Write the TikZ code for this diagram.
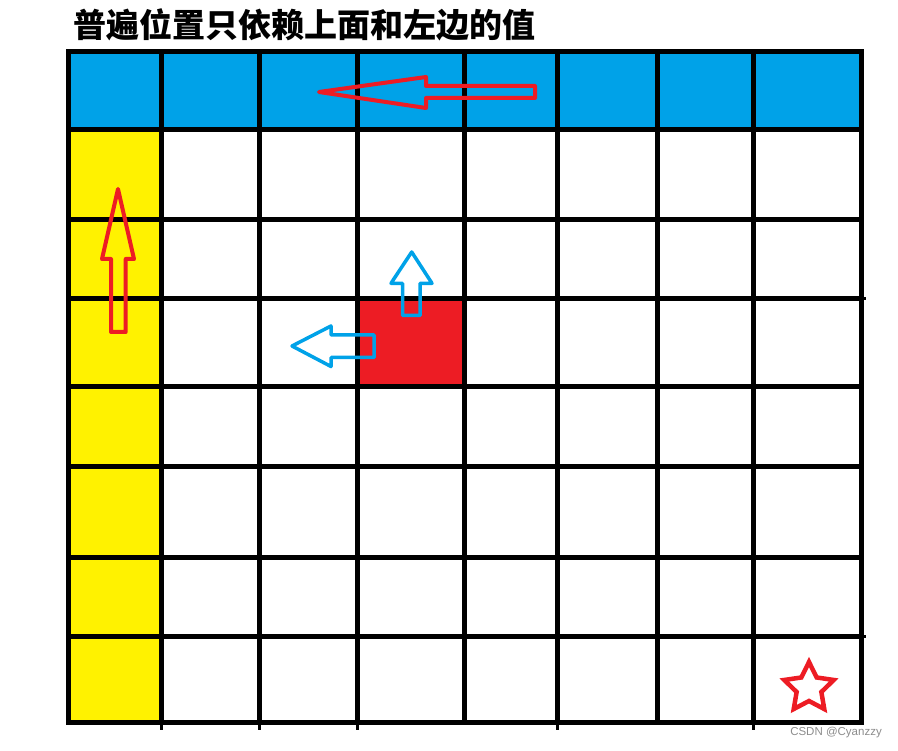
\documentclass[tikz,border=0pt]{standalone}
\usepackage{fontspec}
\setsansfont{Liberation Sans}
\newfontfamily\cjk{Noto Sans CJK SC}
\usepackage{tikz}

\definecolor{paintblue}{HTML}{00A2E8}
\definecolor{paintred}{HTML}{ED1C24}
\definecolor{paintyellow}{HTML}{FFF200}

\begin{document}
\begin{tikzpicture}[x=1pt, y=-1pt,
    gridline/.style={line width=5pt, line cap=rect},
    tickline/.style={line width=3pt},
    redarrow/.style={draw=paintred, line width=4pt, line join=round},
    bluearrow/.style={draw=paintblue, line width=3.5pt, line join=round}]
    \useasboundingbox (0,0) rectangle (898,751);

    % Title
    \node (title) at (73,25) [anchor=west, inner sep=0pt, font=\cjk\bfseries\fontsize{33}{33}\selectfont] {普遍位置只依赖上面和左边的值};

    % Filled cells
    \fill[paintblue] (68,52) rectangle (861,130);
    \fill[paintyellow] (68,130) rectangle (161,722);
    \fill[paintred] (357,299) rectangle (464,387);

    % Grid
    \foreach \x in {68,161,259,357,464,557,657,753,861}
        \draw[gridline] (\x,52) -- (\x,722);
    \foreach \y in {52,130,220,299,387,467,557,636,722}
        \draw[gridline] (68,\y) -- (861,\y);
    \foreach \x in {161,259,357,557,753}
        \draw[tickline] (\x,722) -- (\x,730);
    \foreach \y in {299,636}
        \draw[tickline] (861,\y) -- (866,\y);

    % Dependency arrows
    \draw[redarrow] (319,92) -- (426,77) -- (426,86) -- (535,86) -- (535,98) -- (426,98) -- (426,108) -- cycle;
    \draw[redarrow] (118,189) -- (134,259) -- (125.7,259) -- (125.7,332) -- (111,332) -- (111,259) -- (102,259) -- cycle;
    \draw[bluearrow] (411.7,252) -- (432,283.3) -- (420,283.3) -- (420,315.5) -- (402.5,315.5) -- (402.5,283.3) -- (391,283.3) -- cycle;
    \draw[bluearrow] (292,346) -- (331,326) -- (331,335) -- (374,335) -- (374,357.5) -- (331,357.5) -- (331,366.5) -- cycle;

    % Target cell
    \draw[redarrow, line width=4.5pt, line join=miter, shift={(809,688)}] (-90:26) \foreach \a/\r in {-54/13,-18/26,18/13,54/26,90/13,126/26,162/13,198/26,234/13} { -- (\a:\r) } -- cycle;

    \node (mark) at (882,733) [anchor=east, inner sep=0pt, text=black!45, font=\sffamily\fontsize{11.5}{11.5}\selectfont] {CSDN @Cyanzzy};
\end{tikzpicture}
\end{document}
